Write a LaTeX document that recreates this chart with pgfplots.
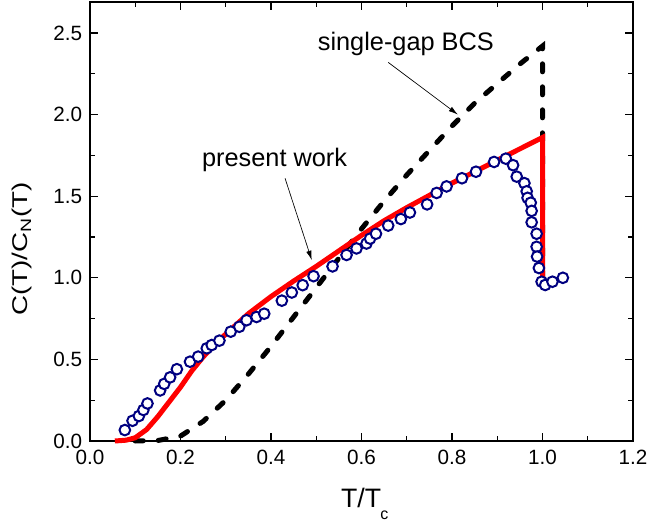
\documentclass[border=0pt]{standalone}
\usepackage{fontspec}
\setmainfont{Liberation Sans}
\usepackage{pgfplots}
\pgfplotsset{compat=1.18}
\usetikzlibrary{arrows.meta}
\definecolor{navy}{RGB}{0,0,128}

\begin{document}
\begin{tikzpicture}
\begin{axis}[
  at={(0,0)}, anchor=south west,
  scale only axis,
  width=407.25pt, height=329.25pt,
  xmin=0, xmax=1.2, ymin=0, ymax=2.69,
  xtick={0,0.2,...,1.2}, ytick={0,0.5,...,2.5},
  minor x tick num=1, minor y tick num=1,
  tick align=inside,
  major tick length=6pt, minor tick length=3.4pt,
  axis line style={line width=1pt},
  every tick/.style={line width=1pt, black},
  ticklabel style={font=\fontsize{15.5}{17}\selectfont},
  xticklabel style={yshift=-3.3pt},
  yticklabel style={xshift=-2.3pt},
  /pgf/number format/.cd, fixed, fixed zerofill, precision=1, assume math mode=true,
  /pgfplots/.cd,
  xlabel={T/T\kern-0.5pt\raisebox{-8.5pt}{\fontsize{12}{12}\selectfont c}},
  xlabel style={font=\fontsize{20}{22}\selectfont, at={(axis description cs:0.506,0)}, anchor=base, yshift=-50pt},
  ylabel={\scalebox{1.3}[1]{C(T)/C\textsubscript{N}(T)}},
  ylabel style={font=\fontsize{16}{18}\selectfont, at={(axis description cs:-0.125,0.437)}, anchor=center},
  clip=false,
]
% single-gap BCS
\addplot[black, line width=3.75pt, line cap=round, dash pattern=on 6pt off 11.25pt]
  coordinates {(0.10,0)(0.15,0.003)(0.2,0.03)(0.25,0.12)(0.3,0.25)(0.35,0.41)
  (0.4,0.58)(0.45,0.76)(0.5,0.94)(0.55,1.12)(0.6,1.30)(0.65,1.47)(0.7,1.63)
  (0.75,1.78)(0.8,1.93)(0.85,2.07)(0.9,2.19)(0.95,2.31)(1.0,2.42)(1.0,1.0)};
% present work
\addplot[red, line width=3.75pt]
  coordinates {(0.055,0)(0.08,0.005)(0.1,0.02)(0.125,0.07)(0.15,0.15)(0.175,0.24)
  (0.2,0.33)(0.225,0.43)(0.25,0.515)(0.275,0.59)(0.3,0.655)(0.35,0.78)(0.4,0.885)
  (0.45,0.98)(0.5,1.07)(0.55,1.165)(0.6,1.26)(0.65,1.35)(0.7,1.43)(0.75,1.505)
  (0.8,1.58)(0.85,1.65)(0.9,1.72)(0.95,1.79)(1.0,1.86)(1.0,1.0)};
% experiment
\addplot[only marks, mark=*, mark size=4pt,
  mark options={draw=navy, fill=white, line width=1.5pt}]
  coordinates {(0.077,0.067)(0.094,0.124)(0.108,0.153)(0.118,0.19)(0.127,0.23)
  (0.155,0.31)(0.164,0.35)(0.177,0.39)(0.192,0.44)(0.221,0.486)(0.239,0.517)
  (0.258,0.568)(0.269,0.588)(0.286,0.615)(0.311,0.67)(0.33,0.70)(0.346,0.74)
  (0.368,0.76)(0.385,0.78)(0.424,0.86)(0.446,0.91)(0.47,0.955)(0.494,1.01)
  (0.536,1.07)(0.567,1.14)(0.589,1.18)(0.611,1.21)(0.619,1.24)(0.632,1.27)
  (0.659,1.32)(0.687,1.36)(0.707,1.40)(0.745,1.45)(0.766,1.52)(0.788,1.56)
  (0.822,1.61)(0.853,1.65)(0.893,1.71)(0.919,1.73)(0.935,1.69)(0.943,1.62)
  (0.96,1.58)(0.965,1.53)(0.967,1.49)(0.974,1.46)(0.976,1.41)(0.976,1.34)
  (0.987,1.27)(0.987,1.19)(0.988,1.13)(0.992,1.06)(0.998,0.976)(1.006,0.956)
  (1.022,0.976)(1.045,1.00)};
\node[font=\fontsize{19}{21}\selectfont, anchor=base] at (axis cs:0.698,2.39) {single-gap BCS};
\node[font=\fontsize{19}{21}\selectfont, anchor=base] at (axis cs:0.408,1.679) {present work};
\draw[-{Latex[length=7pt,width=4pt]}, line width=0.5pt] (axis cs:0.659,2.32) -- (axis cs:0.813,2.0);
\draw[-{Latex[length=7pt,width=4pt]}, line width=0.5pt] (axis cs:0.431,1.61) -- (axis cs:0.49,1.109);
\end{axis}
\pgfresetboundingbox
\path (-67.5pt,-62.25pt) rectangle (418.5pt,330.75pt);
\end{tikzpicture}
\end{document}
